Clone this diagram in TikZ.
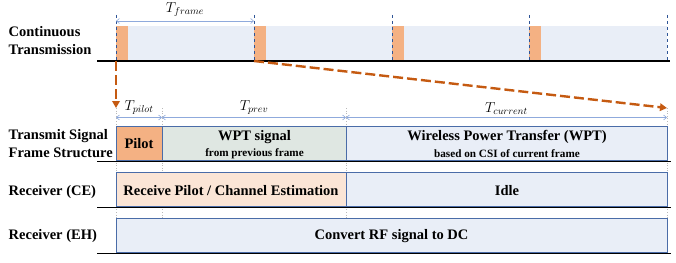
\documentclass[tikz,border=0pt]{standalone}
\usepackage{fontspec}
\setmainfont{Liberation Serif}
\usetikzlibrary{arrows.meta}
\definecolor{pilotorange}{HTML}{F4B183}
\definecolor{bandblue}{HTML}{E9EEF7}
\definecolor{prevgreen}{HTML}{DFE7E2}
\definecolor{cepeach}{HTML}{FBE5D6}
\definecolor{edgeblue}{HTML}{4A6CA8}
\definecolor{markblue}{HTML}{2F5597}
\definecolor{dimblue}{HTML}{8FAADC}
\definecolor{zoomorange}{HTML}{C55A11}

\begin{document}
\begin{tikzpicture}[x=1pt,y=-1pt,>=Stealth,
  rowlabel/.style={font=\fontsize{14.5}{18}\selectfont\bfseries,align=left,anchor=west,inner sep=0pt},
  bigtext/.style={font=\fontsize{14.5}{18}\selectfont\bfseries,inner sep=0pt},
  smalltext/.style={font=\fontsize{11.2}{13}\selectfont\bfseries,inner sep=0pt},
  tlabel/.style={font=\fontsize{14.5}{16}\selectfont,text=black,inner sep=0pt},
  slot/.style={draw=edgeblue,line width=0.8pt},
  dimline/.style={dimblue,line width=0.6pt,{Straight Barb[length=3pt,width=5pt]}-{Straight Barb[length=3pt,width=5pt]}},
  baseline/.style={line width=1.6pt},
  framemark/.style={markblue,dashed,line width=0.6pt},
  guide/.style={gray!55,dotted,line width=0.6pt},
  zoomarrow/.style={zoomorange,line width=2.4pt,dash pattern=on 10pt off 4pt,-{Triangle[length=7pt,width=7.5pt]}}]
\useasboundingbox (0,0) rectangle (676,262);
% continuous transmission
\fill[bandblue] (116,26) rectangle (667,61);
\foreach \x in {116,254,392,529} \fill[pilotorange] (\x,26) rectangle ++(12,35);
\foreach \x [count=\i] in {116,254,392,529,667} {
  \coordinate (f\i) at (\x,61);
  \draw[framemark] (\x,15) -- (f\i);
}
\draw[baseline] (97,61) -- (670,61);
\coordinate (tf1) at (116,21); \coordinate (tf2) at (254,21);
\draw[dimline] (tf1) -- node[tlabel,above=4pt] (tframe) {$T_{frame}$} (tf2);
\node[rowlabel] (cont) at (8.5,41) {Continuous\\Transmission};
% zoom into one frame
\coordinate (z1) at (116,108); \coordinate (z2) at (667,108);
\draw[zoomarrow] (f1) -- (z1);
\draw[zoomarrow] (f2) -- (z2);
% frame structure
\foreach \x [count=\i] in {116,162,346,667} {
  \coordinate (d\i) at (\x,117.5);
  \draw[guide] (\x,108) -- (\x,253);
}
\draw[dimline] (d1) -- node[tlabel,above=3pt] (tpilot) {$T_{pilot}$} (d2);
\draw[dimline] (d2) -- node[tlabel,above=3pt] (tprev) {$T_{prev}$} (d3);
\draw[dimline] (d3) -- node[tlabel,above=3pt] (tcur) {$T_{current}$} (d4);
\filldraw[slot,fill=pilotorange] (116,126) rectangle (162,160.5);
\filldraw[slot,fill=prevgreen] (162,126) rectangle (346,160.5);
\filldraw[slot,fill=bandblue] (346,126) rectangle (667,160.5);
\draw[baseline] (97,161.5) -- (671,161.5);
\filldraw[slot,fill=cepeach] (116,172.5) rectangle (346,206.5);
\filldraw[slot,fill=bandblue] (346,172.5) rectangle (667,206.5);
\draw[baseline] (97,207.5) -- (671,207.5);
\filldraw[slot,fill=bandblue] (116,218.5) rectangle (667,252.5);
\draw[baseline] (97,253.5) -- (671,253.5);
\node[rowlabel] (tx) at (8.5,144) {Transmit Signal\\Frame Structure};
\node[rowlabel] (rxce) at (8.5,192) {Receiver (CE)};
\node[rowlabel] (rxeh) at (8.5,236.5) {Receiver (EH)};
\node[bigtext] (pilot) at (139,143.5) {Pilot};
\node[bigtext] (wptprev) at (254.5,137) {WPT signal};
\node[smalltext] (wptprevsub) at (254.5,153.5) {from previous frame};
\node[bigtext] (wptcur) at (507,137) {Wireless Power Transfer (WPT)};
\node[smalltext] (wptcursub) at (507,153.5) {based on CSI of current frame};
\node[bigtext] (ce) at (231,190.5) {Receive Pilot / Channel Estimation};
\node[bigtext] (idle) at (507,190.5) {Idle};
\node[bigtext] (eh) at (391.5,236) {Convert RF signal to DC};
\end{tikzpicture}
\end{document}
